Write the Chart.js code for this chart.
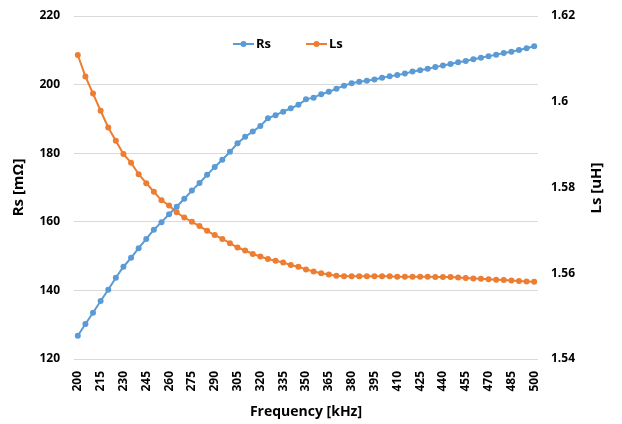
<!DOCTYPE html>
<html>
<head>
<meta charset="utf-8">
<script src="https://cdn.jsdelivr.net/npm/chart.js@4"></script>
<style>
html,body{margin:0;padding:0;background:#fff;}
#wrap{width:622px;height:424px;position:relative;}
</style>
</head>
<body>
<div id="wrap"><canvas id="c" width="622" height="424"></canvas></div>
<script>
const frequencies = [200,205,210,215,220,225,230,235,240,245,250,255,260,265,270,275,280,285,290,295,300,305,310,315,320,325,330,335,340,345,350,355,360,365,370,375,380,385,390,395,400,405,410,415,420,425,430,435,440,445,450,455,460,465,470,475,480,485,490,495,500];
const rsValues = [126.8,130.2,133.5,136.9,140.2,143.7,146.9,149.5,152.3,155.0,157.7,159.9,162.2,164.4,166.7,169.1,171.3,173.7,176.0,178.1,180.4,182.9,184.8,186.3,187.9,190.2,191.1,192.1,193.1,194.1,195.7,196.2,197.2,197.9,198.8,199.7,200.4,200.8,201.1,201.5,202.0,202.4,202.8,203.2,203.8,204.2,204.6,205.1,205.6,206.0,206.5,206.9,207.4,207.8,208.3,208.7,209.2,209.6,210.1,210.6,211.2];
const lsValues = [1.6109,1.6059,1.6019,1.5979,1.5940,1.5909,1.5878,1.5858,1.5831,1.5810,1.5790,1.5770,1.5758,1.5742,1.5730,1.5720,1.5710,1.5699,1.5689,1.5680,1.5670,1.5660,1.5653,1.5645,1.5639,1.5633,1.5629,1.5625,1.5619,1.5615,1.5609,1.5604,1.5600,1.5597,1.5594,1.5593,1.5593,1.5593,1.5593,1.5593,1.5593,1.5593,1.5592,1.5592,1.5592,1.5592,1.5592,1.5591,1.5591,1.5591,1.5590,1.5589,1.5588,1.5587,1.5586,1.5585,1.5584,1.5583,1.5582,1.5581,1.5580];
const rsTicks = [120,140,160,180,200,220];
const lsTicks = [1.54,1.56,1.58,1.60,1.62];

const BLUE = '#5B9BD5', ORANGE = '#ED7D31';
const FONT = '"Open Sans", "DejaVu Sans", sans-serif';

const customText = {
  id: 'customText',
  afterDraw(chart) {
    const ctx = chart.ctx;
    ctx.save();
    ctx.fillStyle = '#000';
    ctx.font = 'bold 15px ' + FONT;
    ctx.textAlign = 'center';
    ctx.textBaseline = 'middle';
    ctx.translate(597, 188);
    ctx.rotate(-Math.PI / 2);
    ctx.fillText('Ls [uH]', 0, 0);
    ctx.restore();
    const items = [{t:'Rs', c:BLUE, x0:233}, {t:'Ls', c:ORANGE, x0:306}];
    const y = 44;
    ctx.save();
    items.forEach(it => {
      ctx.strokeStyle = it.c; ctx.lineWidth = 2;
      ctx.beginPath(); ctx.moveTo(it.x0, y); ctx.lineTo(it.x0 + 21, y); ctx.stroke();
      ctx.fillStyle = it.c;
      ctx.beginPath(); ctx.arc(it.x0 + 10.5, y, 3, 0, Math.PI * 2); ctx.fill();
      ctx.fillStyle = '#000';
      ctx.font = 'bold 13px ' + FONT;
      ctx.textAlign = 'left'; ctx.textBaseline = 'middle';
      ctx.fillText(it.t, it.x0 + 23, y);
    });
    ctx.restore();
  }
};

const noPad = s => { s.paddingTop = 0; s.paddingBottom = 0; s.paddingLeft = 0; s.paddingRight = 0; };

new Chart(document.getElementById('c'), {
  type: 'line',
  data: {
    labels: frequencies,
    datasets: [
      {label:'Rs', data: rsValues, yAxisID:'y', borderColor: BLUE, backgroundColor: BLUE,
       borderWidth: 2, pointRadius: 3, pointBorderWidth: 0, pointBackgroundColor: BLUE, tension: 0},
      {label:'Ls', data: lsValues, yAxisID:'y2', borderColor: ORANGE, backgroundColor: ORANGE,
       borderWidth: 2, pointRadius: 3, pointBorderWidth: 0, pointBackgroundColor: ORANGE, tension: 0}
    ]
  },
  options: {
    responsive: false,
    animation: false,
    layout: {padding: {top: 16, left: 10, right: 0, bottom: 0}},
    plugins: {legend: {display: false}, tooltip: {enabled: false}},
    scales: {
      x: {
        offset: true,
        grid: {display: false},
        border: {display: false},
        ticks: {
          autoSkip: false, minRotation: 90, maxRotation: 90, padding: 4,
          color: '#000', font: {family: FONT, weight: 'bold', size: 12},
          callback: function(v, i) { return i % 3 === 0 ? String(frequencies[i]) : ''; }
        },
        title: {display: true, text: 'Frequency [kHz]', color: '#000',
                font: {family: FONT, weight: 'bold', size: 14}, padding: {top: 0, bottom: 4}},
        afterFit: s => { s.height = 65; noPad(s); }
      },
      y: {
        position: 'left', min: 120, max: 220,
        afterBuildTicks: s => { s.ticks = rsTicks.map(v => ({value: v})); },
        grid: {color: '#D9D9D9', lineWidth: 1, drawTicks: false},
        border: {display: false},
        ticks: {color: '#000', padding: 14, font: {family: FONT, weight: 'bold', size: 12}},
        title: {display: true, text: 'Rs [mΩ]', color: '#000',
                font: {family: FONT, weight: 'bold', size: 15}, padding: {top: 0, bottom: 0}},
        afterFit: s => { s.width = 64; noPad(s); }
      },
      y2: {
        position: 'right', min: 1.54, max: 1.62,
        afterBuildTicks: s => { s.ticks = lsTicks.map(v => ({value: v})); },
        grid: {display: false, drawTicks: false},
        border: {display: false},
        ticks: {color: '#000', padding: 13, font: {family: FONT, weight: 'bold', size: 12},
                callback: v => String(+Number(v).toFixed(2))},
        afterFit: s => { s.width = 84; noPad(s); }
      }
    }
  },
  plugins: [customText]
});
</script>
</body>
</html>
